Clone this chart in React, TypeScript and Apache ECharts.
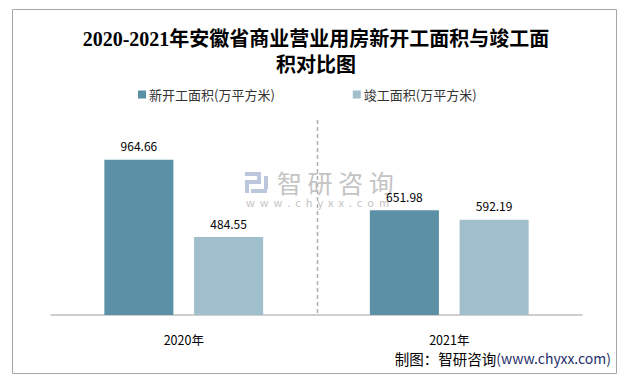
import React, { useEffect, useRef } from "react";
import * as echarts from "echarts";

const categories = ["2020年", "2021年"];
const newStarted = [964.66, 651.98];
const completed = [484.55, 592.19];
const seriesNames = ["新开工面积(万平方米)", "竣工面积(万平方米)"];
const titleText = "2020-2021年安徽省商业营业用房新开工面积与竣工面\n积对比图";
const sourceText = "制图：智研咨询";
const sourceUrl = "(www.chyxx.com)";

const CJK = "'Microsoft YaHei', 'Noto Sans CJK SC', sans-serif";

export default function App() {
  const ref = useRef<HTMLDivElement>(null);
  useEffect(() => {
    if (!ref.current) return;
    const chart = echarts.init(ref.current, null, { renderer: "svg" });
    const wm = "#c4c4c4";
    const logo = "#bcc6dc";
    chart.setOption({
      animation: false,
      backgroundColor: "#ffffff",
      title: {
        text: titleText,
        left: "center",
        top: 21,
        textStyle: {
          fontSize: 20,
          fontWeight: "bold",
          fontFamily: "'Liberation Serif', 'Noto Sans CJK SC', serif",
          lineHeight: 26,
          color: "#000",
        },
      },
      legend: {
        left: 133,
        top: 83,
        itemWidth: 8,
        itemHeight: 8,
        itemGap: 78,
        icon: "rect",
        textStyle: { fontSize: 13, color: "#333", fontFamily: CJK, padding: [0, 0, 0, -2] },
        data: seriesNames,
      },
      grid: { left: 51, right: 50, top: 122, bottom: 67, containLabel: false },
      xAxis: {
        type: "category",
        data: categories,
        axisLine: { lineStyle: { color: "#bfbfbf", width: 1.5 } },
        axisTick: { show: false },
        axisLabel: { fontSize: 12.5, color: "#000", margin: 18, fontFamily: CJK },
        splitLine: { show: false },
      },
      yAxis: {
        type: "value",
        min: 0,
        max: 1200,
        show: false,
        splitLine: { show: false },
      },
      series: [
        {
          name: seriesNames[0],
          type: "bar",
          data: newStarted,
          barWidth: "26%",
          barGap: "30%",
          itemStyle: { color: "#5b90a6" },
          label: {
            show: true,
            position: "top",
            distance: 8,
            fontSize: 12,
            color: "#000",
            fontFamily: CJK,
          },
        },
        {
          name: seriesNames[1],
          type: "bar",
          data: completed,
          barWidth: "26%",
          itemStyle: { color: "#a0becb" },
          label: {
            show: true,
            position: "top",
            distance: 8,
            fontSize: 12,
            color: "#000",
            fontFamily: CJK,
          },
        },
      ],
      graphic: [
        {
          type: "rect",
          shape: { x: 12.5, y: 9.5, width: 604, height: 364 },
          style: { fill: "none", stroke: "#a6a6a6", lineWidth: 1 },
          silent: true,
        },
        {
          type: "group",
          left: 245,
          top: 172,
          silent: true,
          children: [
            { type: "rect", shape: { x: 0, y: 0, width: 16, height: 4 }, style: { fill: logo } },
            { type: "rect", shape: { x: 12, y: 0, width: 4, height: 12 }, style: { fill: logo } },
            { type: "rect", shape: { x: 0, y: 8, width: 16, height: 4 }, style: { fill: logo } },
            { type: "rect", shape: { x: 0, y: 8, width: 4, height: 13 }, style: { fill: logo } },
            { type: "rect", shape: { x: 6, y: 17, width: 16, height: 4 }, style: { fill: logo } },
            { type: "rect", shape: { x: 19, y: 4, width: 4, height: 13 }, style: { fill: logo } },
          ],
        },
        {
          type: "text",
          left: 277,
          top: 169,
          silent: true,
          style: { text: "智 研 咨 询", fontSize: 25, fill: wm, fontFamily: CJK },
        },
        {
          type: "text",
          left: 246,
          top: 196,
          silent: true,
          style: { text: "w  w  w  .  c  h  y  x  x  .  c  o  m", fontSize: 11, fill: wm, fontFamily: CJK },
        },
        {
          type: "text",
          right: 21,
          top: 351,
          style: {
            text: "{a|" + sourceText + "}{b|" + sourceUrl + "}",
            rich: {
              a: { fontSize: 14.5, fill: "#000", fontFamily: CJK },
              b: { fontSize: 14, fill: "#1f2f6b", fontFamily: CJK },
            },
          },
        },
      ],
    });
    // dashed divider at the boundary between the two categories, from the axis scale
    const x0 = chart.convertToPixel({ xAxisIndex: 0 }, categories[0]) as number;
    const x1 = chart.convertToPixel({ xAxisIndex: 0 }, categories[1]) as number;
    const yTop = chart.convertToPixel({ yAxisIndex: 0 }, 1200) as number;
    const yBot = chart.convertToPixel({ yAxisIndex: 0 }, 0) as number;
    const xm = Math.round((x0 + x1) / 2) + 0.5;
    chart.setOption({
      graphic: [
        {
          type: "line",
          id: "divider",
          silent: true,
          z: -1,
          shape: { x1: xm, y1: yTop - 2, x2: xm, y2: yBot },
          style: { stroke: "#b0b0b0", lineWidth: 1.5, lineDash: [4, 3] },
        },
      ],
    });
    return () => chart.dispose();
  }, []);
  return (
    <div
      ref={ref}
      style={{ position: "absolute", left: 0, top: 0, width: 632, height: 382 }}
    />
  );
}
